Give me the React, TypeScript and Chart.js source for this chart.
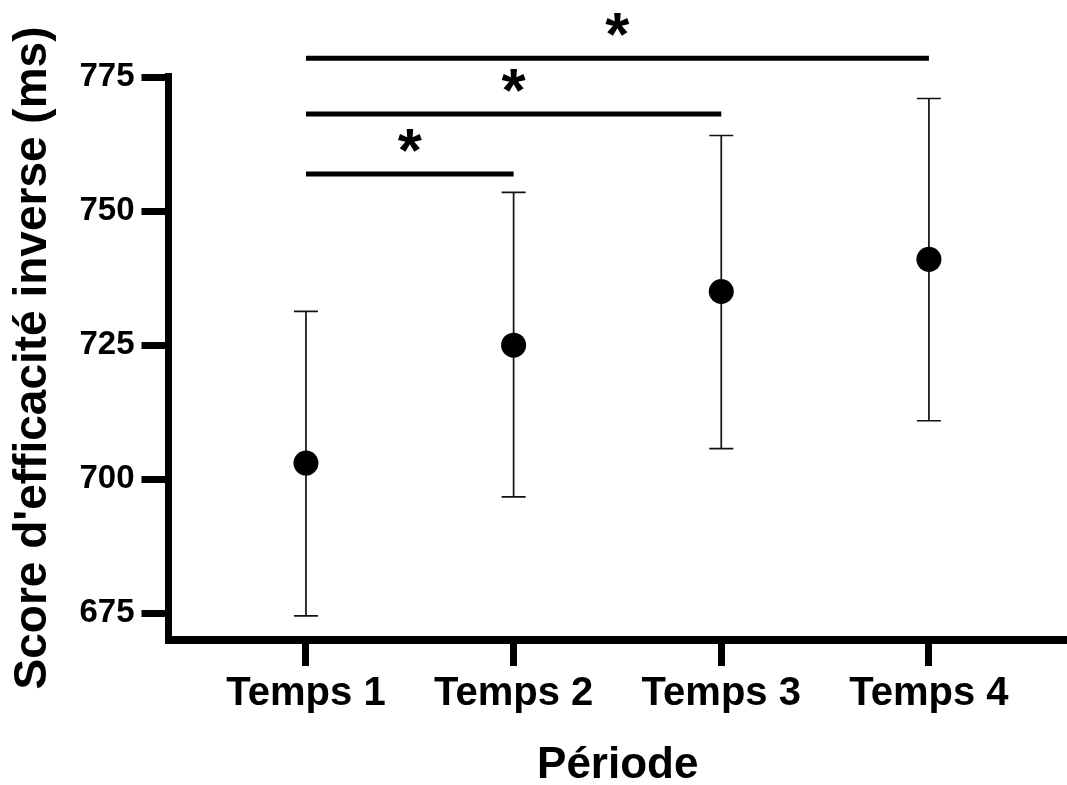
import React, { useEffect, useRef } from "react";
import { Chart, registerables } from "chart.js";

Chart.register(...registerables);

const FONT = "'Liberation Sans', Arial, Helvetica, sans-serif";

const CATEGORIES = ["Temps 1", "Temps 2", "Temps 3", "Temps 4"];
const MEANS = [703, 725, 735, 741];
const UPPER = [731.3, 753.5, 764.1, 771];
const LOWER = [674.5, 696.7, 705.7, 710.9];
const Y_TICKS = [675, 700, 725, 750, 775];

const SIG_FROM = [1, 1, 1];
const SIG_TO = [2, 3, 4];
const SIG_LEVEL = [756.9, 768.1, 778.5];
const SIG_LABELS = ["*", "*", "*"];

const X_TITLE = "Période";
const Y_TITLE = "Score d'efficacité inverse (ms)";

const errorBarPlugin = {
  id: "errorBars",
  beforeDatasetsDraw(chart: any) {
    const { ctx } = chart;
    const x = chart.scales.x;
    const y = chart.scales.y;
    ctx.save();
    ctx.strokeStyle = "#111";
    ctx.lineWidth = 1.7;
    CATEGORIES.forEach((_, i) => {
      const px = x.getPixelForValue(i + 1);
      const top = y.getPixelForValue(UPPER[i]);
      const bot = y.getPixelForValue(LOWER[i]);
      ctx.beginPath();
      ctx.moveTo(px, top);
      ctx.lineTo(px, bot);
      ctx.moveTo(px - 12, top);
      ctx.lineTo(px + 12, top);
      ctx.moveTo(px - 12, bot);
      ctx.lineTo(px + 12, bot);
      ctx.stroke();
    });
    ctx.restore();
  },
};

const asteriskPlugin = {
  id: "asterisks",
  afterDatasetsDraw(chart: any) {
    const { ctx } = chart;
    const x = chart.scales.x;
    const y = chart.scales.y;
    ctx.save();
    ctx.fillStyle = "#000";
    ctx.font = `bold 62px ${FONT}`;
    ctx.textAlign = "center";
    ctx.textBaseline = "alphabetic";
    SIG_LABELS.forEach((label, k) => {
      const cx = (x.getPixelForValue(SIG_FROM[k]) + x.getPixelForValue(SIG_TO[k])) / 2;
      const ly = y.getPixelForValue(SIG_LEVEL[k]);
      const m = ctx.measureText(label);
      const cy = ly - 34;
      const base = cy + (m.actualBoundingBoxAscent - m.actualBoundingBoxDescent) / 2;
      ctx.fillText(label, cx, base);
    });
    ctx.restore();
  },
};

export default function App() {
  const ref = useRef<HTMLCanvasElement | null>(null);

  useEffect(() => {
    document.body.style.margin = "0";
    if (!ref.current) return;

    const sigSets = SIG_FROM.map((f, k) => ({
      type: "scatter" as const,
      label: "sig" + k,
      data: [
        { x: f, y: SIG_LEVEL[k] },
        { x: SIG_TO[k], y: SIG_LEVEL[k] },
      ],
      showLine: true,
      borderColor: "#000",
      borderWidth: 5,
      borderCapStyle: "butt" as const,
      pointRadius: 0,
      clip: false as any,
    }));

    const chart = new Chart(ref.current, {
      type: "scatter",
      data: {
        datasets: [
          {
            label: "Moyenne",
            data: MEANS.map((m, i) => ({ x: i + 1, y: m })),
            pointRadius: 12.5,
            pointHoverRadius: 12.5,
            pointBackgroundColor: "#000",
            pointBorderWidth: 0,
            showLine: false,
          },
          ...sigSets,
        ] as any,
      },
      options: {
        responsive: false,
        animation: false,
        events: [],
        layout: { autoPadding: false, padding: { top: 76, right: 0, left: 0, bottom: 0 } },
        plugins: {
          legend: { display: false },
          tooltip: { enabled: false },
        },
        scales: {
          x: {
            type: "linear",
            min: 0.338,
            max: 4.665,
            afterBuildTicks: (s: any) => {
              s.ticks = CATEGORIES.map((_, i) => ({ value: i + 1 }));
            },
            afterFit: (s: any) => {
              s.height = 145;
            },
            ticks: {
              callback: (v: any) => CATEGORIES[Math.round(Number(v)) - 1] ?? "",
              font: { family: FONT, size: 40, weight: "bold" },
              color: "#000",
              padding: 4,
              maxRotation: 0,
              autoSkip: false,
            },
            grid: {
              display: true,
              drawOnChartArea: false,
              drawTicks: true,
              tickLength: 26,
              tickWidth: 7,
              tickColor: "#000",
            },
            border: { display: true, width: 8, color: "#000" },
            title: {
              display: true,
              text: X_TITLE,
              color: "#000",
              font: { family: FONT, size: 44, weight: "bold", lineHeight: 0.8 },
              padding: { top: 0, bottom: 2 },
            },
          },
          y: {
            type: "linear",
            min: 670,
            max: 775.2,
            afterBuildTicks: (s: any) => {
              s.ticks = Y_TICKS.map((v) => ({ value: v }));
            },
            afterFit: (s: any) => {
              s.width = 168.5;
            },
            ticks: {
              font: { family: FONT, size: 33, weight: "bold" },
              color: "#000",
              padding: 7,
            },
            grid: {
              display: true,
              drawOnChartArea: false,
              drawTicks: true,
              tickLength: 27,
              tickWidth: 7,
              tickColor: "#000",
            },
            border: { display: true, width: 7, color: "#000" },
            title: {
              display: true,
              text: Y_TITLE,
              color: "#000",
              font: { family: FONT, size: 46, weight: "bold", lineHeight: 1.2 },
              padding: { top: 6, bottom: 0 },
            },
          },
        },
      } as any,
      plugins: [errorBarPlugin, asteriskPlugin],
    });

    return () => chart.destroy();
  }, []);

  return (
    <div style={{ width: 1067, height: 785, background: "#fff" }}>
      <canvas ref={ref} width={1067} height={785} style={{ display: "block" }} />
    </div>
  );
}
